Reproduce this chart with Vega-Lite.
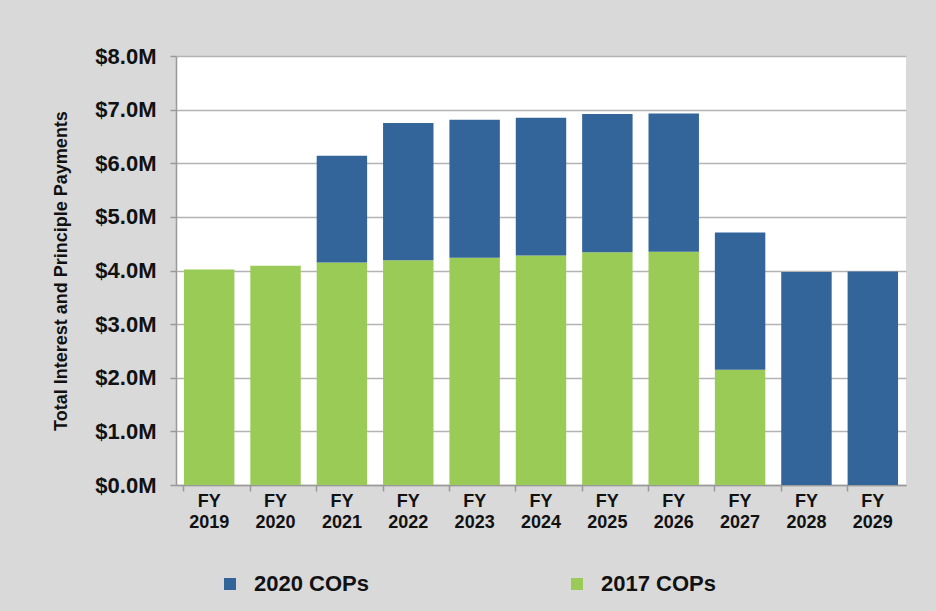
{
  "$schema": "https://vega.github.io/schema/vega-lite/v6.json",
  "autosize": "none",
  "width": 730,
  "height": 429,
  "padding": {"left": 176, "top": 56, "right": 30, "bottom": 126},
  "background": "#d9d9d9",
  "config": {
    "font": "Liberation Sans",
    "view": {"fill": "white", "stroke": null},
    "axis": {"labelFont": "Liberation Sans", "titleFont": "Liberation Sans", "labelColor": "#111111", "titleColor": "#111111"},
    "legend": {"labelFont": "Liberation Sans"}
  },
  "data": {
    "values": [
      {"year": "FY 2019", "series": "2017 COPs", "value": 4.02},
      {"year": "FY 2020", "series": "2017 COPs", "value": 4.09},
      {"year": "FY 2021", "series": "2017 COPs", "value": 4.15},
      {"year": "FY 2022", "series": "2017 COPs", "value": 4.19},
      {"year": "FY 2023", "series": "2017 COPs", "value": 4.24},
      {"year": "FY 2024", "series": "2017 COPs", "value": 4.28},
      {"year": "FY 2025", "series": "2017 COPs", "value": 4.34},
      {"year": "FY 2026", "series": "2017 COPs", "value": 4.35},
      {"year": "FY 2027", "series": "2017 COPs", "value": 2.15},
      {"year": "FY 2021", "series": "2020 COPs", "value": 1.99},
      {"year": "FY 2022", "series": "2020 COPs", "value": 2.56},
      {"year": "FY 2023", "series": "2020 COPs", "value": 2.57},
      {"year": "FY 2024", "series": "2020 COPs", "value": 2.57},
      {"year": "FY 2025", "series": "2020 COPs", "value": 2.58},
      {"year": "FY 2026", "series": "2020 COPs", "value": 2.58},
      {"year": "FY 2027", "series": "2020 COPs", "value": 2.56},
      {"year": "FY 2028", "series": "2020 COPs", "value": 3.97},
      {"year": "FY 2029", "series": "2020 COPs", "value": 3.98}
    ]
  },
  "mark": {"type": "bar"},
  "encoding": {
    "x": {
      "field": "year",
      "type": "nominal",
      "sort": null,
      "scale": {"paddingInner": 0.24, "paddingOuter": 0.12},
      "axis": {
        "title": null,
        "labelAngle": 0,
        "labelExpr": "split(datum.label, ' ')",
        "labelFontSize": 18,
        "labelFontWeight": "bold",
        "labelLineHeight": 21,
        "labelPadding": 1,
        "tickSize": 6,
        "tickColor": "#999999",
        "tickWidth": 1.5,
        "bandPosition": 0,
        "domainColor": "#999999",
        "domainWidth": 1.5
      }
    },
    "y": {
      "field": "value",
      "type": "quantitative",
      "stack": "zero",
      "scale": {"domain": [0, 8], "nice": false},
      "axis": {
        "title": "Total Interest and Principle Payments",
        "titleFontSize": 18,
        "titleFontWeight": "bold",
        "titlePadding": 24,
        "values": [0, 1, 2, 3, 4, 5, 6, 7, 8],
        "labelExpr": "'$' + format(datum.value, '.1f') + 'M'",
        "labelFontSize": 22,
        "labelFontWeight": "bold",
        "labelPadding": 14,
        "tickSize": 6,
        "tickColor": "#999999",
        "tickWidth": 1.5,
        "domainColor": "#999999",
        "domainWidth": 1.5,
        "grid": true,
        "gridColor": "#b3b3b3",
        "gridWidth": 1.5
      }
    },
    "color": {
      "field": "series",
      "type": "nominal",
      "scale": {"domain": ["2020 COPs", "2017 COPs"], "range": ["#33659b", "#9acb56"]},
      "legend": {
        "title": null,
        "orient": "none",
        "direction": "horizontal",
        "legendX": 43,
        "legendY": 517,
        "padding": 0,
        "symbolType": "square",
        "symbolSize": 144,
        "symbolStrokeWidth": 0,
        "labelFontSize": 22,
        "labelFontWeight": "bold",
        "labelColor": "#111111",
        "labelOffset": 13,
        "columnPadding": 197,
        "labelLimit": 300
      }
    },
    "order": {"field": "series", "sort": "ascending"}
  }
}
